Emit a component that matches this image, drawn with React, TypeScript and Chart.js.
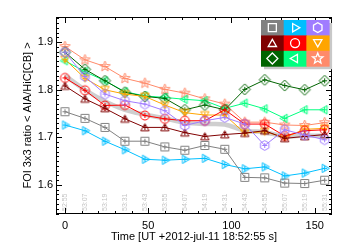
import React, { useEffect, useRef } from "react";
import { Chart, registerables } from "chart.js";
Chart.register(...registerables);

const times = [0, 12, 24, 36, 48, 60, 72, 84, 96, 108, 120, 132, 144, 156];
const timeLabels = ["52:55", "53:07", "53:19", "53:31", "53:43", "53:55", "54:07", "54:19", "54:31", "54:43", "54:55", "55:07", "55:19", "55:31"];

const graySquares = [1.754, 1.740, 1.721, 1.692, 1.692, 1.680, 1.673, 1.683, 1.675, 1.616, 1.615, 1.604, 1.603, 1.610];
const cyanRight = [1.726, 1.714, 1.692, 1.674, 1.654, 1.652, 1.654, 1.656, 1.643, 1.634, 1.638, 1.619, 1.625, 1.635];
const purpleHex = [1.879, 1.828, 1.791, 1.777, 1.770, 1.756, 1.725, 1.735, 1.742, 1.728, 1.683, 1.716, 1.705, 1.695];
const darkRedUp = [1.808, 1.781, 1.761, 1.739, 1.721, 1.721, 1.710, 1.702, 1.706, 1.709, 1.714, 1.698, 1.702, 1.706];
const redCircle = [1.825, 1.799, 1.767, 1.768, 1.746, 1.739, 1.735, 1.735, 1.758, 1.728, 1.728, 1.703, 1.714, 1.716];
const orangeDown = [1.864, 1.824, 1.800, 1.791, 1.786, 1.768, 1.752, 1.747, 1.747, 1.709, 1.712, 1.700, 1.717, 1.719];
const greenDiamond = [1.879, 1.843, 1.819, 1.795, 1.786, 1.782, 1.758, 1.768, 1.758, 1.801, 1.821, 1.809, 1.800, 1.819];
const springLeft = [1.861, 1.838, 1.819, 1.796, 1.787, 1.784, 1.780, 1.777, 1.761, 1.772, 1.760, 1.740, 1.758, 1.758];
const salmonStar = [1.891, 1.863, 1.849, 1.824, 1.814, 1.801, 1.793, 1.781, 1.770, 1.732, 1.732, 1.726, 1.725, 1.731];
const meanCurve = [1.830, 1.800, 1.776, 1.758, 1.748, 1.740, 1.731, 1.728, 1.727, 1.714, 1.711, 1.702, 1.704, 1.703];

const seriesValues = [graySquares, cyanRight, purpleHex, darkRedUp, redCircle, orangeDown, greenDiamond, springLeft, salmonStar];
const seriesColors = ["#808080", "#00bfff", "#a07cff", "#800000", "#ff0000", "#ffa500", "#006400", "#00ff7f", "#ff8a6a"];
const seriesShapes = ["square", "triR", "hex", "triU", "circle", "triD", "diamond", "triL", "star"];

const yMajor = [1.6, 1.7, 1.8, 1.9];
const xMajor = [0, 50, 100, 150];

function shapePath(ctx: CanvasRenderingContext2D, shape: string, cx: number, cy: number, s: number) {
  ctx.beginPath();
  const poly = (pts: number[][]) => {
    pts.forEach((p, i) => (i === 0 ? ctx.moveTo(cx + p[0] * s, cy + p[1] * s) : ctx.lineTo(cx + p[0] * s, cy + p[1] * s)));
    ctx.closePath();
  };
  const tri = (ang: number) => {
    const pts: number[][] = [];
    for (let k = 0; k < 3; k++) {
      const a = ang + (k * 2 * Math.PI) / 3;
      pts.push([4.8 * Math.cos(a), 4.8 * Math.sin(a) + (Math.abs(Math.sin(ang)) > 0.5 ? -Math.sin(ang) * 1.0 : 0)]);
    }
    poly(pts);
  };
  switch (shape) {
    case "square":
      ctx.rect(cx - 4 * s, cy - 4 * s, 8 * s, 8 * s);
      break;
    case "circle":
      ctx.arc(cx, cy, 4.5 * s, 0, Math.PI * 2);
      break;
    case "triU":
      tri(-Math.PI / 2);
      break;
    case "triD":
      tri(Math.PI / 2);
      break;
    case "triR":
      tri(0);
      break;
    case "triL":
      tri(Math.PI);
      break;
    case "diamond":
      poly([[0, -5.5], [5.5, 0], [0, 5.5], [-5.5, 0]]);
      break;
    case "hex": {
      const pts: number[][] = [];
      for (let k = 0; k < 6; k++) {
        const a = (k * Math.PI) / 3 + Math.PI / 6;
        pts.push([4.9 * Math.cos(a), 4.9 * Math.sin(a)]);
      }
      poly(pts);
      break;
    }
    case "star": {
      const pts: number[][] = [];
      for (let k = 0; k < 10; k++) {
        const a = -Math.PI / 2 + (k * Math.PI) / 5;
        const r = k % 2 === 0 ? 5.5 : 2.4;
        pts.push([r * Math.cos(a), r * Math.sin(a)]);
      }
      poly(pts);
      break;
    }
  }
}

function makeMarker(shape: string, color: string): HTMLCanvasElement {
  const c = document.createElement("canvas");
  c.width = 15;
  c.height = 15;
  const ctx = c.getContext("2d")!;
  ctx.strokeStyle = color;
  ctx.lineWidth = 1;
  shapePath(ctx, shape, 7.5, 7.5, 1);
  ctx.stroke();
  ctx.beginPath();
  ctx.moveTo(5, 7.5);
  ctx.lineTo(10, 7.5);
  ctx.moveTo(7.5, 5);
  ctx.lineTo(7.5, 10);
  ctx.stroke();
  return c;
}

const framePlugin = {
  id: "frame",
  afterDatasetsDraw(chart: any) {
    const { ctx, chartArea: a, scales } = chart;
    const xs = scales.x;
    const ys = scales.y;
    ctx.save();
    // rotated time labels
    ctx.fillStyle = "#c4c4c4";
    ctx.font = "7px 'Liberation Sans', Arial, sans-serif";
    ctx.textAlign = "left";
    ctx.textBaseline = "middle";
    timeLabels.forEach((lab, i) => {
      const x = xs.getPixelForValue(times[i]);
      ctx.save();
      ctx.translate(x, a.bottom - 3);
      ctx.rotate(-Math.PI / 2);
      ctx.fillText(lab, 0, 0);
      ctx.restore();
    });
    // frame
    ctx.strokeStyle = "#000";
    ctx.lineWidth = 1;
    ctx.strokeRect(Math.round(a.left) + 0.5, Math.round(a.top) + 0.5, Math.round(a.right - a.left) - 1, Math.round(a.bottom - a.top) - 1);
    ctx.beginPath();
    for (let t = 0; t <= 160; t += 10) {
      const x = Math.round(xs.getPixelForValue(t)) + 0.5;
      const len = t % 50 === 0 ? 6 : 3;
      ctx.moveTo(x, a.bottom);
      ctx.lineTo(x, a.bottom - len);
      ctx.moveTo(x, a.top);
      ctx.lineTo(x, a.top + len);
    }
    for (let k = 154; k <= 195; k++) {
      const v = k / 100;
      const y = Math.round(ys.getPixelForValue(v)) + 0.5;
      const len = k % 10 === 0 ? 6 : 3;
      ctx.moveTo(a.left, y);
      ctx.lineTo(a.left + len, y);
      ctx.moveTo(a.right, y);
      ctx.lineTo(a.right - len, y);
    }
    ctx.stroke();
    // legend
    const lx = 261, ly = 20, cw = 22.7, ch = 15.4;
    ctx.fillStyle = "#c8c8c8";
    ctx.fillRect(lx + 3, ly + 3, cw * 3, ch * 3);
    seriesColors.forEach((col, i) => {
      const cx = lx + (i % 3) * cw;
      const cy = ly + Math.floor(i / 3) * ch;
      ctx.fillStyle = col;
      ctx.fillRect(cx, cy, cw + 0.5, ch + 0.5);
      ctx.strokeStyle = "#ffffff";
      ctx.lineWidth = 1.3;
      shapePath(ctx, seriesShapes[i], cx + cw / 2, cy + ch / 2, 1);
      ctx.stroke();
    });
    ctx.restore();
  },
};

export default function App() {
  const ref = useRef<HTMLCanvasElement>(null);
  useEffect(() => {
    const datasets: any[] = seriesValues.map((vals, i) => ({
      data: vals.map((v, j) => ({ x: times[j], y: v })),
      borderColor: seriesColors[i],
      borderWidth: 1,
      pointStyle: makeMarker(seriesShapes[i], seriesColors[i]),
      pointRadius: 5,
      backgroundColor: "transparent",
      showLine: true,
    }));
    datasets.push({
      data: meanCurve.map((v, j) => ({ x: times[j], y: v })),
      borderColor: "#cfcfcf",
      borderWidth: 4.5,
      pointRadius: 0,
      showLine: true,
      tension: 0.3,
    });
    const font = { family: "'Liberation Sans', Arial, sans-serif", size: 11 };
    const chart = new Chart(ref.current!, {
      type: "scatter",
      data: { datasets },
      options: {
        animation: false,
        responsive: false,
        events: [],
        layout: { padding: { top: 17, right: 18, left: 0, bottom: 0 } },
        plugins: { legend: { display: false }, tooltip: { enabled: false } },
        scales: {
          x: {
            type: "linear",
            min: -5.4,
            max: 160.4,
            afterFit: (s: any) => { s.height = 36; },
            afterBuildTicks: (s: any) => { s.ticks = xMajor.map((v) => ({ value: v })); },
            grid: { display: false, drawTicks: false },
            border: { display: false },
            ticks: { color: "#000", font, padding: 5, maxRotation: 0 },
            title: { display: true, text: "Time [UT +2012-jul-11 18:52:55 s]", color: "#000", font, padding: { top: 0, bottom: 6 } },
          },
          y: {
            type: "linear",
            min: 1.539,
            max: 1.953,
            afterFit: (s: any) => { s.width = 56; },
            afterBuildTicks: (s: any) => { s.ticks = yMajor.map((v) => ({ value: v })); },
            grid: { display: false, drawTicks: false },
            border: { display: false },
            ticks: { color: "#000", font, padding: 3, callback: (v: any) => Number(v).toFixed(1) },
            title: { display: true, text: "FOI 3x3 ratio < AIA/HiC[CB] >", color: "#000", font, padding: { top: 21, bottom: 0 } },
          },
        },
      },
      plugins: [framePlugin],
    });
    return () => chart.destroy();
  }, []);
  return (
    <div style={{ position: "absolute", left: 0, top: 0, width: 350, height: 250, background: "#fff" }}>
      <canvas ref={ref} width={350} height={250} style={{ display: "block", width: 350, height: 250 }} />
    </div>
  );
}
